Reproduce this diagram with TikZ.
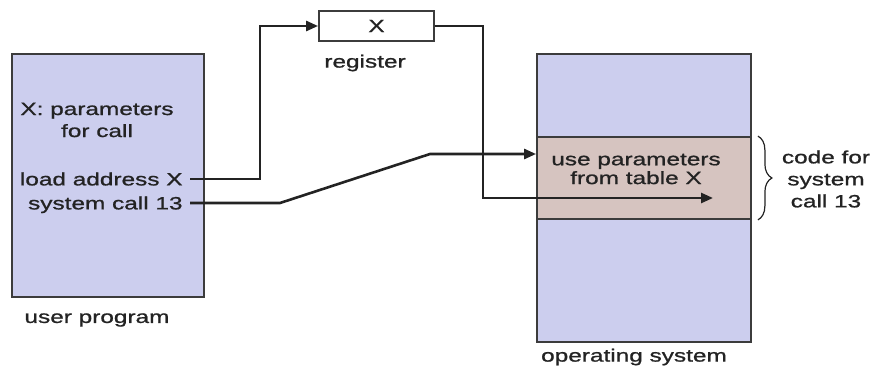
\documentclass[tikz,border=0pt]{standalone}
\usepackage{fontspec}
\setmainfont[FakeStretch=1.37,FakeBold=1]{Liberation Sans}
\usetikzlibrary{arrows.meta,decorations.pathreplacing}
\definecolor{progbg}{RGB}{204,206,238}
\definecolor{callbg}{RGB}{214,196,192}
\definecolor{edge}{RGB}{60,60,60}
\definecolor{ink}{RGB}{35,35,35}
\newcommand{\txtfont}{\fontsize{8.9}{11}\selectfont}
\tikzset{
	memblock/.style={draw=edge,line width=0.9pt,fill=progbg,inner sep=0pt},
	txt/.style={text=ink,font=\txtfont,align=center,inner sep=0pt},
	linetxt/.style={txt,anchor=east,inner xsep=3.5pt,text height=6.4pt,text depth=0pt},
	link/.style={line width=1.3pt,draw=ink},
	tolink/.style={link,-{Triangle[length=6pt,width=5pt]}}
}

\begin{document}
\begin{tikzpicture}[x=0.5pt,y=-0.5pt]
	\useasboundingbox (0,0) rectangle (878,374);
	
	% blocs memoire
	\node[memblock,minimum width=96pt,minimum height=121.5pt] (prog) at (108,175.5) {};
	\node[memblock,minimum width=107pt,minimum height=144pt] (os) at (644,198) {};
	\node[memblock,fill=callbg,minimum width=107pt,minimum height=41pt] (call) at (644,178) {};
	\node[memblock,fill=white,txt,draw=edge,minimum width=57.5pt,minimum height=15pt] (reg) at (376.5,26) {X};
	
	% textes du programme
	\node[txt] (params) at (97,120) {X: parameters\\for call};
	\node[linetxt] (load) at (190,179) {load address X};
	\node[linetxt] (sys) at (190,203) {system call 13};
	\node[txt,font=\fontsize{8.9}{9.4}\selectfont] (calltxt) at (636,169) {use parameters\\from table X};
	
	% legendes
	\node[txt] (reglbl) at (365,63) {register};
	\node[txt] (proglbl) at (97,320) {user program};
	\node[txt] (oslbl) at (634,357) {operating system};
	\node[txt,font=\fontsize{8.9}{11}\selectfont] (codetxt) at (826,179) {code for\\system\\call 13};
	\draw[line width=0.6pt,draw=ink,decorate,decoration={brace,amplitude=7pt}]
		([xshift=3pt]call.north east) -- ([xshift=3pt]call.south east);
	
	% liaisons
	\coordinate (kink) at (430,154);
	\coordinate (hit) at (713,198);
	\draw[tolink] (load.east) -- ++(70,0) |- (reg.west);
	\draw[tolink] (reg.east) -- ++(48,0) |- (hit);
	\draw[tolink] (sys.east) -- ++(90,0) -- (kink) -- (call.west |- kink);
	
\end{tikzpicture}
\end{document}
